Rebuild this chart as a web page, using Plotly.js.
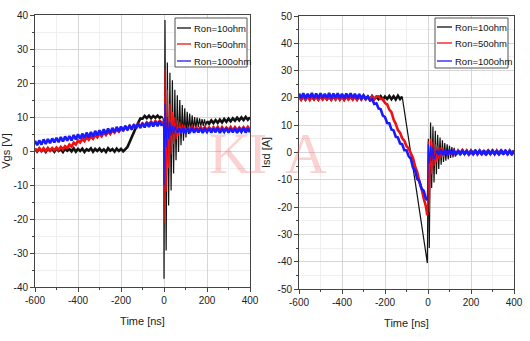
<!DOCTYPE html>
<html>
<head>
<meta charset="utf-8">
<script src="https://cdn.plot.ly/plotly-3.0.1.min.js"></script>
<style>html,body{margin:0;padding:0;background:#fff;}#chart{width:530px;height:341px;}</style>
</head>
<body>
<div id="chart"></div>
<script>
// ---------- DATA ----------
const seriesNames = ["Ron=10ohm", "Ron=50ohm", "Ron=100ohm"];
const seriesColors = ["#111111", "#ee1111", "#1a1aff"];
const xTicks = [-600, -400, -200, 0, 200, 400];
const vgsTicks = [-40, -30, -20, -10, 0, 10, 20, 30, 40];
const isdTicks = [-50, -40, -30, -20, -10, 0, 10, 20, 30, 40, 50];

// ===== Left panel: Vgs [V] vs Time [ns] =====
// Ron=10ohm
const vgs10Pre_t = [-600,-590,-580,-570,-560,-550,-540,-530,-520,-510,-500,-490,-480,-470,-460,-450,-440,-430,-420,-410,-400,-390,-380,-370,-360,-350,-340,-330,-320,-310,-300,-290,-280,-270,-260,-250,-240,-230,-220,-210,-200,-190,-180,
 -170,-160,-150,-140,-130,-120,-110,-100,-90,-80,-70,-60,-50,-40,-30,-20,-10];
const vgs10Pre_v = [0.6,-0.2,0.7,0.0,0.5,-0.3,0.7,0.1,0.6,-0.2,0.8,0.0,0.5,-0.3,0.7,0.1,0.6,-0.1,0.8,-0.2,0.6,0.0,0.7,-0.3,0.5,0.1,0.8,-0.2,0.6,0.0,0.7,-0.1,0.5,-0.3,0.8,0.1,0.6,-0.2,0.7,0.0,0.6,-0.1,0.5,
 1.2,2.6,4.2,5.3,7.0,8.3,9.6,9.5,10.3,9.7,10.4,9.6,10.3,9.8,10.4,9.7,10.2];
const vgs10Ring_t = [-10,-4,-1,0,4.6,10,15.6,21.5,27.5,33,39,44.5,50.5,56,62,67.5,73.5,79,85,90.5,96.5,102,108,113.5,119.5,125,131,136.5,142.5,148,154,159.5,165.5,171,177,182.5,188.5,194,200];
const vgs10Ring_v = [10.2,9.5,6,-37.6,38.5,-29.3,26,-16,23,-11.6,20.8,-6.6,18,-2.7,16.4,-0.3,15,1.7,13.5,3,12.6,4,11.5,5,11,5.5,10.5,6,10,6.5,9.8,7,9.6,7.2,9.4,7.4,9.3,7.5,8.8];
const vgs10Post_t = [200,210,220,230,240,250,260,270,280,290,300,310,320,330,340,350,360,370,380,390,400];
const vgs10Post_v = [8.8,8.0,9.0,8.2,9.1,8.3,9.2,8.4,9.4,8.6,9.5,8.7,9.6,8.9,9.8,9.0,9.9,9.1,10.0,9.2,9.9];
// Ron=50ohm
const vgs50Pre_t = [-600,-590,-580,-570,-560,-550,-540,-530,-520,-510,-500,-490,-480,-470,-460,-450,-440,-430,-420,-410,-400,-390,-380,-370,-360,-350,-340,-330,-320,-310,-300,-290,-280,-270,-260,-250,-240,-230,-220,-210,-200,-190,-180,-170,-160,-150,-140,-130,-120,-110,-100,-90,-80,-70,-60,-50,-40,-30,-20,-10];
const vgs50Pre_v = [0.7,0.0,0.8,-0.1,0.8,0.0,0.9,0.1,0.9,0.2,1.0,0.3,1.2,0.5,1.4,0.9,1.9,1.3,2.5,1.9,3.1,2.5,3.6,2.9,4.0,3.3,4.3,3.6,4.7,4.0,5.0,4.3,5.4,4.7,5.7,5.0,6.1,5.4,6.4,5.7,6.8,6.1,7.1,6.4,7.4,6.6,7.6,6.9,7.9,7.2,8.1,7.4,8.4,7.7,8.6,7.8,8.8,8.0,8.9,8.3];
const vgs50Ring_t = [-10,-4,-1,0,4.6,10,15.6,21.5,27.5,33,39,44.5,50.5,56,62,67.5,73.5,79,85,90.5,96.5,102,110];
const vgs50Ring_v = [8.3,8.6,6,-21,24,-12,18,-5,14,-1,11.5,2,10,3.5,9,4.5,8.5,5,8,5.5,7.6,5.8,7.0];
const vgs50Post_t = [110,120,130,140,150,160,170,180,190,200,210,220,230,240,250,260,270,280,290,300,310,320,330,340,350,360,370,380,390,400];
const vgs50Post_v = [7.0,6.1,7.1,6.0,6.9,6.1,7.0,6.2,7.1,6.0,6.9,6.1,7.0,6.2,7.1,6.0,7.0,6.1,6.9,6.2,7.1,6.0,7.0,6.1,6.9,6.2,7.0,6.1,7.1,6.2];
// Ron=100ohm
const vgs100Pre_t = [-600,-590,-580,-570,-560,-550,-540,-530,-520,-510,-500,-490,-480,-470,-460,-450,-440,-430,-420,-410,-400,-390,-380,-370,-360,-350,-340,-330,-320,-310,-300,-290,-280,-270,-260,-250,-240,-230,-220,-210,-200,-190,-180,-170,-160,-150,-140,-130,-120,-110,-100,-90,-80,-70,-60,-50,-40,-30,-20,-10];
const vgs100Pre_v = [3.0,1.7,3.1,1.9,3.4,2.1,3.5,2.3,3.7,2.5,3.9,2.6,4.1,2.8,4.3,3.0,4.4,3.1,4.7,3.4,4.9,3.6,5.1,3.8,5.4,4.0,5.6,4.3,5.9,4.6,6.1,4.8,6.4,5.0,6.6,5.3,6.8,5.5,7.1,5.7,7.2,5.9,7.4,6.1,7.6,6.3,7.8,6.6,8.1,6.8,8.2,6.9,8.4,7.1,8.5,7.2,8.6,7.3,8.7,7.4];
const vgs100Ring_t = [-10,-4,-1,0,4.6,10,15.6,21.5,27.5,33,39,44.5,50.5,60];
const vgs100Ring_v = [7.4,8.2,6,-10,14,1,10,3.5,8.5,4.5,7.5,5,7.2,5.4];
const vgs100Post_t = [60,70,80,90,100,110,120,130,140,150,160,170,180,190,200,210,220,230,240,250,260,270,280,290,300,310,320,330,340,350,360,370,380,390,400];
const vgs100Post_v = [5.4,6.6,5.5,6.7,5.3,6.5,5.6,6.8,5.4,6.6,5.5,6.7,5.3,6.5,5.6,6.7,5.4,6.6,5.5,6.8,5.3,6.5,5.6,6.7,5.4,6.6,5.5,6.7,5.3,6.5,5.6,6.8,5.4,6.6,5.5];

// ===== Right panel: Isd [A] vs Time [ns] =====
// Ron=10ohm
const isd10Pre_t = [-600,-590,-580,-570,-560,-550,-540,-530,-520,-510,-500,-490,-480,-470,-460,-450,-440,-430,-420,-410,-400,-390,-380,-370,-360,-350,-340,-330,-320,-310,-300,-290,-280,-270,-260,-250,-240,-230,-220,-210,-200,-190,-180,-170,-160,-150,-140,-130,-120];
const isd10Pre_v = [20.6,19.5,20.5,19.4,20.7,19.6,20.4,19.5,20.6,19.4,20.5,19.6,20.7,19.5,20.4,19.4,20.6,19.5,20.5,19.6,20.7,19.4,20.5,19.5,20.6,19.6,20.4,19.4,20.7,19.5,20.6,19.5,20.5,19.4,20.7,19.6,20.4,19.5,20.6,19.4,20.5,19.6,20.7,19.5,20.6,19.4,20.8,19.6,20.5];
const isd10Ring_t = [-120,-110,-100,-90,-80,-70,-60,-50,-40,-30,-20,-10,-3,1.5,6,12,17,23,28,34,39,45,50,56,61,67,72,78,83,89,94,100,105,111,116,122,127,140];
const isd10Ring_v = [20.5,15,10,4.5,-0.5,-5.5,-10.5,-15.5,-21,-26,-31,-36,-40.5,5,-35,11,-13,9.5,-11,8,-8,6.5,-6,5.5,-4.5,4.5,-3.5,3.5,-3,3,-2.5,2.5,-2,2,-1.8,1.7,-1.5,0.6];
const isd10Post_t = [140,150,160,170,180,190,200,210,220,230,240,250,260,270,280,290,300,310,320,330,340,350,360,370,380,390,400];
const isd10Post_v = [0.6,-0.5,0.7,-0.4,0.5,-0.6,0.7,-0.4,0.6,-0.5,0.7,-0.4,0.5,-0.6,0.6,-0.4,0.7,-0.5,0.5,-0.6,0.7,-0.4,0.6,-0.5,0.7,-0.4,0.5];
// Ron=50ohm
const isd50Pre_t = [-600,-590,-580,-570,-560,-550,-540,-530,-520,-510,-500,-490,-480,-470,-460,-450,-440,-430,-420,-410,-400,-390,-380,-370,-360,-350,-340,-330,-320,-310,-300,-290,-280,-270,-260,-250,-240,
 -230,-220,-210,-200,-190,-180,-170,-160,-150,-140,-130,-120,-110,-100,-90,-80,-70,-60,-50,-40,-30,-20,-10,-3];
const isd50Pre_v = [20.5,19.3,20.6,19.4,20.4,19.2,20.6,19.4,20.5,19.3,20.7,19.4,20.4,19.5,20.6,19.3,20.5,19.4,20.6,19.3,20.4,19.3,20.6,19.5,20.5,19.4,20.7,19.3,20.5,19.4,20.6,19.5,20.4,19.3,20.6,19.5,20.5,
 20.6,19.6,19.6,18.1,17.6,15.7,14.8,12.1,10.5,8.2,7.3,5.2,4.3,2.3,1.5,-0.3,-2.0,-5.1,-7.2,-10.8,-13.2,-16.8,-19.7,-23];
const isd50Ring_t = [-3,1.5,6,12,17,23,28,34,39,45,50,56,61,67,72,80];
const isd50Ring_v = [-23,4,-22,5,-8,4,-5,3,-3.5,2.5,-2.5,2,-2,1.8,-1.6,0.7];
const isd50Post_t = [80,90,100,110,120,130,140,150,160,170,180,190,200,210,220,230,240,250,260,270,280,290,300,310,320,330,340,350,360,370,380,390,400];
const isd50Post_v = [0.7,-0.6,0.8,-0.7,0.6,-0.8,0.7,-0.5,0.8,-0.6,0.7,-0.7,0.6,-0.6,0.8,-0.7,0.5,-0.6,0.7,-0.8,0.6,-0.6,0.8,-0.7,0.7,-0.5,0.6,-0.7,0.8,-0.6,0.7,-0.5,0.6];
// Ron=100ohm
const isd100Pre_t = [-600,-590,-580,-570,-560,-550,-540,-530,-520,-510,-500,-490,-480,-470,-460,-450,-440,-430,-420,-410,-400,-390,-380,-370,-360,-350,-340,-330,-320,-310,
 -300,-290,-280,-270,-260,-250,-240,-230,-220,-210,-200,-190,-180,-170,-160,-150,-140,-130,-120,-110,-100,-90,-80,-70,-60,-50,-40,-30,-20,-10,-3];
const isd100Pre_v = [21.6,20.0,21.7,19.9,21.5,20.1,21.8,20.0,21.6,19.9,21.7,20.1,21.5,20.0,21.8,19.9,21.6,20.1,21.7,20.0,21.5,19.9,21.6,20.1,21.7,20.0,21.5,19.8,21.4,19.9,
 21.0,19.8,20.5,19.1,19.5,17.8,18.0,16.1,15.8,13.5,13.0,10.8,10.7,8.4,8.1,5.8,5.5,3.3,3.0,0.8,0.8,-1.3,-2.3,-5.5,-6.7,-9.7,-10.5,-13.3,-14.0,-16.8,-17.5];
const isd100Ring_t = [-3,1.5,6,12,17,23,28,40];
const isd100Ring_v = [-17.5,3,-4,2.5,-3,2,-2.5,0.8];
const isd100Post_t = [40,50,60,70,80,90,100,110,120,130,140,150,160,170,180,190,200,210,220,230,240,250,260,270,280,290,300,310,320,330,340,350,360,370,380,390,400];
const isd100Post_v = [0.8,-0.7,0.9,-0.8,0.7,-0.9,0.8,-0.6,0.9,-0.8,0.7,-0.8,0.9,-0.7,0.8,-0.9,0.6,-0.8,0.9,-0.7,0.8,-0.8,0.7,-0.9,0.9,-0.7,0.8,-0.6,0.7,-0.8,0.9,-0.7,0.8,-0.8,0.7,-0.9,0.8];

// ---------- CHART ----------
const W = 530, H = 341;
const px = x => x / W;
const py = y => 1 - y / H;
const FONT = "'Liberation Sans', Arial, sans-serif";

// [series index, times, values, kind]
const leftParts = [
  [0, vgs10Pre_t, vgs10Pre_v, 'band'], [0, vgs10Ring_t, vgs10Ring_v, 'ring'], [0, vgs10Post_t, vgs10Post_v, 'band'],
  [1, vgs50Pre_t, vgs50Pre_v, 'band'], [1, vgs50Ring_t, vgs50Ring_v, 'ring'], [1, vgs50Post_t, vgs50Post_v, 'band'],
  [2, vgs100Pre_t, vgs100Pre_v, 'band'], [2, vgs100Ring_t, vgs100Ring_v, 'ring'], [2, vgs100Post_t, vgs100Post_v, 'band']];
const rightParts = [
  [0, isd10Pre_t, isd10Pre_v, 'band'], [0, isd10Ring_t, isd10Ring_v, 'ring'], [0, isd10Post_t, isd10Post_v, 'band'],
  [1, isd50Pre_t, isd50Pre_v, 'band'], [1, isd50Ring_t, isd50Ring_v, 'ring'], [1, isd50Post_t, isd50Post_v, 'band'],
  [2, isd100Pre_t, isd100Pre_v, 'band'], [2, isd100Ring_t, isd100Ring_v, 'ring'], [2, isd100Post_t, isd100Post_v, 'band']];

[[leftParts, 'x', 'y'], [rightParts, 'x2', 'y2']].forEach(g => g[0].forEach(p => {
  if (p[1].length !== p[2].length) throw new Error('length mismatch in series ' + p[0] + ': ' + p[1].length + ' vs ' + p[2].length);
}));

const traces = [];
[[leftParts, 'x', 'y'], [rightParts, 'x2', 'y2']].forEach(g => g[0].forEach(p => traces.push({
  x: p[1], y: p[2], type: 'scatter', mode: 'lines', name: seriesNames[p[0]],
  line: {color: seriesColors[p[0]], width: p[3] === 'band' ? 2.6 : 1.2},
  xaxis: g[1], yaxis: g[2], showlegend: false, hoverinfo: 'skip'})));

function xAxis(domain, anchor) {
  return {domain: domain, anchor: anchor, range: [-600, 400], tickvals: xTicks, ticktext: xTicks.map(String),
    showgrid: true, gridcolor: '#d6d6d6', gridwidth: 1, zeroline: false,
    showline: true, mirror: true, linecolor: '#444', linewidth: 1,
    ticks: 'outside', ticklen: 4, tickcolor: '#444',
    minor: {dtick: 100, tick0: -600, ticks: 'outside', ticklen: 2, tickcolor: '#444', showgrid: true, gridcolor: '#efefef'},
    tickfont: {family: FONT, size: 10, color: '#222'},
    title: {text: 'Time [ns]', font: {family: FONT, size: 11, color: '#222'}, standoff: 12}};
}
function yAxis(domain, anchor, range, ticks, label) {
  return {domain: domain, anchor: anchor, range: range, tickvals: ticks, ticktext: ticks.map(String),
    showgrid: true, gridcolor: '#d6d6d6', gridwidth: 1, zeroline: false,
    showline: true, mirror: true, linecolor: '#444', linewidth: 1,
    ticks: 'outside', ticklen: 4, tickcolor: '#444',
    minor: {dtick: 5, ticks: 'outside', ticklen: 2, tickcolor: '#444', showgrid: true, gridcolor: '#efefef'},
    tickfont: {family: FONT, size: 10, color: '#222'},
    title: {text: label, font: {family: FONT, size: 11, color: '#222'}, standoff: 4}};
}

const shapes = [];
const annotations = [];
function addLegend(bx0, bx1, by0, by1, lx0, lx1, tx, rows) {
  shapes.push({type: 'rect', xref: 'paper', yref: 'paper', x0: px(bx0), x1: px(bx1), y0: py(by1), y1: py(by0),
    line: {color: '#555', width: 1}, fillcolor: 'white', layer: 'above'});
  seriesNames.forEach((n, i) => {
    shapes.push({type: 'line', xref: 'paper', yref: 'paper', x0: px(lx0), x1: px(lx1), y0: py(rows[i]), y1: py(rows[i]),
      line: {color: seriesColors[i], width: 1.3}, layer: 'above'});
    annotations.push({xref: 'paper', yref: 'paper', x: px(tx), y: py(rows[i]), xanchor: 'left', yanchor: 'middle',
      text: n, showarrow: false, font: {family: FONT, size: 9.5, color: '#111'}});
  });
}
addLegend(175, 247, 18, 67, 177, 191, 192, [28, 44, 61]);
addLegend(435, 508, 18, 68, 437, 452, 453, [27, 43, 61]);

// faint "KIA" watermark
[['K', 230], ['I', 257], ['A', 306]].forEach(w => annotations.push({xref: 'paper', yref: 'paper', x: px(w[1]), y: py(153),
  xanchor: 'center', yanchor: 'middle', text: w[0], showarrow: false,
  font: {family: "'Liberation Serif', 'DejaVu Serif', serif", size: 58, color: 'rgba(240,80,80,0.26)'}}));

const layout = {
  width: W, height: H, margin: {l: 0, r: 0, t: 0, b: 0},
  paper_bgcolor: '#ffffff', plot_bgcolor: '#ffffff', showlegend: false,
  xaxis: xAxis([px(35), px(250)], 'y'),
  yaxis: yAxis([py(287), py(15)], 'x', [-40, 40], vgsTicks, 'Vgs [V]'),
  xaxis2: xAxis([px(299), px(514)], 'y2'),
  yaxis2: yAxis([py(289), py(16)], 'x2', [-50, 50], isdTicks, 'Isd [A]'),
  shapes: shapes, annotations: annotations
};

Plotly.newPlot('chart', traces, layout, {staticPlot: true, displayModeBar: false});
</script>
</body>
</html>
